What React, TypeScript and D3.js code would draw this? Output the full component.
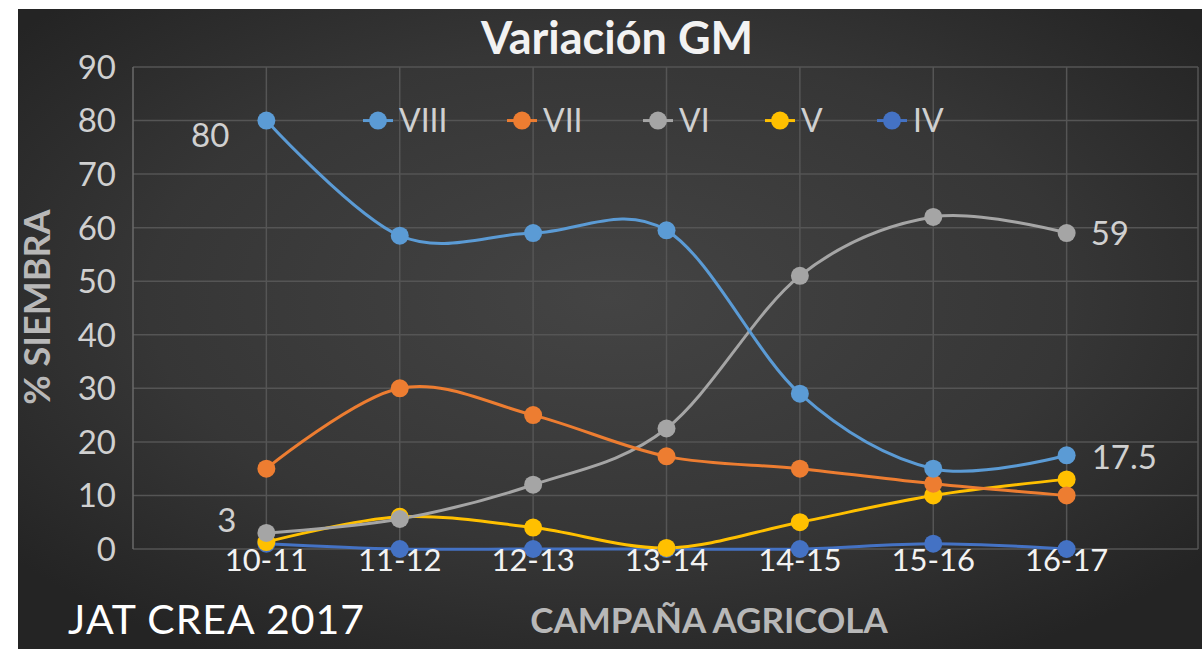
import React from "react";
import * as d3 from "d3";

const categories = ["10-11", "11-12", "12-13", "13-14", "14-15", "15-16", "16-17"];
const seriesNames = ["VIII", "VII", "VI", "V", "IV"];
const seriesColors = ["#5B9BD5", "#ED7D31", "#A5A5A5", "#FFC000", "#4472C4"];
const viii = [80, 58.5, 59, 59.5, 29, 15, 17.5];
const vii = [15, 30, 25, 17.3, 15, 12.2, 10];
const vi = [3, 5.6, 12, 22.5, 51, 62, 59];
const v = [1.3, 6, 4, 0.2, 5, 10, 13];
const iv = [1, 0, 0, 0, 0, 1, 0];
const yTicks = [0, 10, 20, 30, 40, 50, 60, 70, 80, 90];
const labelSeries = [0, 2, 2, 0];
const labelIndex = [0, 0, 6, 6];
const labelTexts = ["80", "3", "59", "17.5"];

// label placement (style, not data)
const labelOffsets = [
  { dx: -37, dy: 15, anchor: "end" },
  { dx: -30, dy: -13, anchor: "end" },
  { dx: 24, dy: 0, anchor: "start" },
  { dx: 25, dy: 2, anchor: "start" },
];

const W = 1202;
const H = 649;
const FONT = "Lato, 'Open Sans', sans-serif";

export default function App() {
  const all = [viii, vii, vi, v, iv];
  const x = d3.scaleLinear().domain([0, categories.length + 1]).range([133, 1200]);
  const y = d3.scaleLinear().domain([0, 90]).range([549, 67]);
  const line = d3
    .line<number>()
    .x((_, i) => x(i + 1))
    .y((d) => y(d))
    .curve(d3.curveCatmullRom.alpha(0));

  const legendX = [378, 522, 658, 780, 892];
  const legendY = y(80);
  const order = [4, 3, 2, 1, 0];

  return (
    <svg
      width={W}
      height={H}
      style={{ position: "absolute", left: 0, top: 0, display: "block" }}
    >
      <defs>
        <radialGradient id="bg" cx="50%" cy="45%" r="65%">
          <stop offset="0%" stopColor="#444444" />
          <stop offset="60%" stopColor="#363636" />
          <stop offset="100%" stopColor="#242424" />
        </radialGradient>
      </defs>
      <rect x={0} y={0} width={W} height={H} fill="#ffffff" />
      <rect x={18} y={9} width={W - 18} height={H - 9} fill="url(#bg)" />

      {yTicks.map((t) => (
        <line
          key={"h" + t}
          x1={x(0)}
          x2={1198}
          y1={y(t)}
          y2={y(t)}
          stroke="#555555"
          strokeWidth={1.5}
        />
      ))}
      {d3.range(1, categories.length + 2).map((i) => (
        <line
          key={"v" + i}
          x1={Math.min(x(i), 1198)}
          x2={Math.min(x(i), 1198)}
          y1={y(90)}
          y2={y(0)}
          stroke="#555555"
          strokeWidth={1.5}
        />
      ))}
      <line x1={x(0)} x2={x(0)} y1={y(90)} y2={y(0)} stroke="#6a6a6a" strokeWidth={1.5} />

      {yTicks.map((t) => (
        <text
          key={"yt" + t}
          x={116}
          y={y(t)}
          dy="0.36em"
          textAnchor="end"
          fontFamily={FONT}
          fontSize={33}
          fill="#d0d0d0"
        >
          {t}
        </text>
      ))}

      <text
        transform={`translate(50,307) rotate(-90)`}
        textAnchor="middle"
        fontFamily={FONT}
        fontWeight="bold"
        fontSize={36}
        fill="#b8b8b8"
      >
        % SIEMBRA
      </text>

      <text
        x={617}
        y={54}
        textAnchor="middle"
        fontFamily={FONT}
        fontWeight="bold"
        fontSize={45}
        fill="#f2f2f2"
      >
        Variación GM
      </text>

      {order.map((s) => (
        <path
          key={"l" + s}
          d={line(all[s]) || ""}
          fill="none"
          stroke={seriesColors[s]}
          strokeWidth={3}
        />
      ))}
      {order.map((s) =>
        all[s].map((d, i) => (
          <circle
            key={"c" + s + "-" + i}
            cx={x(i + 1)}
            cy={y(d)}
            r={9}
            fill={seriesColors[s]}
          />
        ))
      )}

      {seriesNames.map((n, i) => (
        <g key={"lg" + i}>
          <line
            x1={legendX[i] - 15}
            x2={legendX[i] + 15}
            y1={legendY}
            y2={legendY}
            stroke={seriesColors[i]}
            strokeWidth={3}
          />
          <circle cx={legendX[i]} cy={legendY} r={9} fill={seriesColors[i]} />
          <text
            x={legendX[i] + 21}
            y={legendY}
            dy="0.36em"
            fontFamily={FONT}
            fontSize={32}
            fill="#d0d0d0"
          >
            {n}
          </text>
        </g>
      ))}

      {labelTexts.map((t, k) => {
        const px = x(labelIndex[k] + 1);
        const py = y(all[labelSeries[k]][labelIndex[k]]);
        const o = labelOffsets[k];
        return (
          <text
            key={"dl" + k}
            x={px + o.dx}
            y={py + o.dy}
            dy="0.36em"
            textAnchor={o.anchor}
            fontFamily={FONT}
            fontSize={33}
            fill="#d0d0d0"
          >
            {t}
          </text>
        );
      })}

      {categories.map((c, i) => (
        <text
          key={"xt" + i}
          x={x(i + 1)}
          y={560}
          dy="0.36em"
          textAnchor="middle"
          fontFamily={FONT}
          fontSize={31}
          fill="#f2f2f2"
        >
          {c}
        </text>
      ))}

      <text
        x={709}
        y={620}
        dy="0.36em"
        textAnchor="middle"
        fontFamily={FONT}
        fontWeight="bold"
        fontSize={35}
        fill="#b8b8b8"
      >
        CAMPAÑA AGRICOLA
      </text>

      <text
        x={68}
        y={634}
        fontFamily={FONT}
        fontSize={41}
        letterSpacing={1}
        fill="#ffffff"
      >
        JAT CREA 2017
      </text>
    </svg>
  );
}
